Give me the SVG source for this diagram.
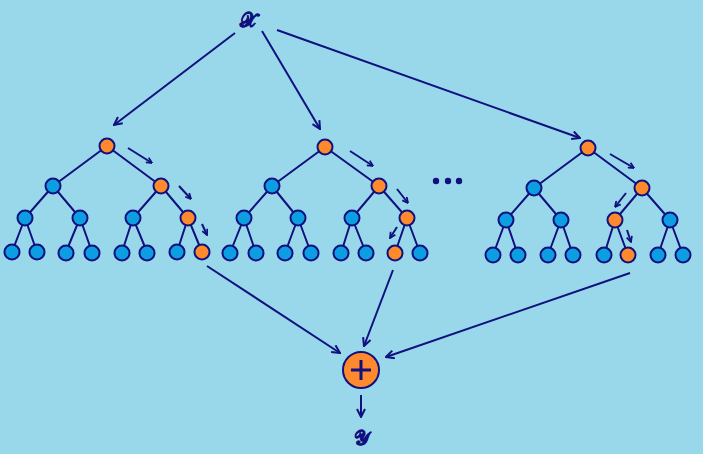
<svg xmlns="http://www.w3.org/2000/svg" width="703" height="454" viewBox="0 0 703 454">
<defs>
<style>
.bg{fill:#99D8EA}
.e{stroke:#10107E;stroke-width:2;fill:none}
.n{fill:#0D9EE2;stroke:#10107E;stroke-width:2}
.o{fill:#FF8A2E;stroke:#10107E;stroke-width:2}
.a{stroke:#10107E;stroke-width:2;fill:none;marker-end:url(#v)}
.s{stroke:#10107E;stroke-width:2;fill:none;marker-end:url(#vs)}
.t{font-family:"DejaVu Serif","DejaVu Sans","Noto Sans",serif;font-size:20px;font-weight:bold;fill:#10107E;stroke:#10107E;stroke-width:0.6;text-anchor:middle}
</style>
<marker id="v" viewBox="0 0 10 10" refX="9" refY="5" markerWidth="10" markerHeight="10" markerUnits="userSpaceOnUse" orient="auto">
<path d="M1,1 L9,5 L1,9" fill="none" stroke="#10107E" stroke-width="2"/>
</marker>
<marker id="vs" viewBox="0 0 10 10" refX="9" refY="5" markerWidth="7" markerHeight="7" markerUnits="userSpaceOnUse" orient="auto">
<path d="M1,1 L9,5 L1,9" fill="none" stroke="#10107E" stroke-width="2.5"/>
</marker>
</defs>
<rect class="bg" x="0" y="0" width="703" height="454"/>

<g id="tree1">
<g class="e">
<path d="M107,146 L53,186 M107,146 L161,186 M53,186 L25,218 M53,186 L80,218 M161,186 L133,218 M161,186 L188,218 M25,218 L12,252 M25,218 L37,252 M80,218 L66,252 M80,218 L92,252 M133,218 L122,252 M133,218 L147,252 M188,218 L177,252 M188,218 L202,252"/>
</g>
<circle class="o" cx="107" cy="146" r="7.5"/>
<circle class="n" cx="53" cy="186" r="7.5"/>
<circle class="o" cx="161" cy="186" r="7.5"/>
<circle class="n" cx="25" cy="218" r="7.5"/>
<circle class="n" cx="80" cy="218" r="7.5"/>
<circle class="n" cx="133" cy="218" r="7.5"/>
<circle class="o" cx="188" cy="218" r="7.5"/>
<circle class="n" cx="12" cy="252" r="7.5"/>
<circle class="n" cx="37" cy="252" r="7.5"/>
<circle class="n" cx="66" cy="253" r="7.5"/>
<circle class="n" cx="92" cy="253" r="7.5"/>
<circle class="n" cx="122" cy="253" r="7.5"/>
<circle class="n" cx="147" cy="253" r="7.5"/>
<circle class="n" cx="177" cy="252" r="7.5"/>
<circle class="o" cx="202" cy="252" r="7.5"/>
</g>

<g id="tree2">
<g class="e">
<path d="M325,147 L272,186 M325,147 L379,186 M272,186 L244,218 M272,186 L298,218 M379,186 L352,218 M379,186 L407,218 M244,218 L230,253 M244,218 L256,253 M298,218 L285,253 M298,218 L311,253 M352,218 L341,253 M352,218 L366,253 M407,218 L395,253 M407,218 L420,253"/>
</g>
<circle class="o" cx="325" cy="147" r="7.5"/>
<circle class="n" cx="272" cy="186" r="7.5"/>
<circle class="o" cx="379" cy="186" r="7.5"/>
<circle class="n" cx="244" cy="218" r="7.5"/>
<circle class="n" cx="298" cy="218" r="7.5"/>
<circle class="n" cx="352" cy="218" r="7.5"/>
<circle class="o" cx="407" cy="218" r="7.5"/>
<circle class="n" cx="230" cy="253" r="7.5"/>
<circle class="n" cx="256" cy="253" r="7.5"/>
<circle class="n" cx="285" cy="253" r="7.5"/>
<circle class="n" cx="311" cy="253" r="7.5"/>
<circle class="n" cx="341" cy="253" r="7.5"/>
<circle class="n" cx="366" cy="253" r="7.5"/>
<circle class="o" cx="395" cy="253" r="7.5"/>
<circle class="n" cx="420" cy="253" r="7.5"/>
</g>

<g id="tree3">
<g class="e">
<path d="M588,148 L534,188 M588,148 L642,188 M534,188 L506,220 M534,188 L561,220 M642,188 L615,220 M642,188 L670,220 M506,220 L493,255 M506,220 L518,255 M561,220 L548,255 M561,220 L573,255 M615,220 L604,255 M615,220 L628,255 M670,220 L658,255 M670,220 L683,255"/>
</g>
<circle class="o" cx="588" cy="148" r="7.5"/>
<circle class="n" cx="534" cy="188" r="7.5"/>
<circle class="o" cx="642" cy="188" r="7.5"/>
<circle class="n" cx="506" cy="220" r="7.5"/>
<circle class="n" cx="561" cy="220" r="7.5"/>
<circle class="o" cx="615" cy="220" r="7.5"/>
<circle class="n" cx="670" cy="220" r="7.5"/>
<circle class="n" cx="493" cy="255" r="7.5"/>
<circle class="n" cx="518" cy="255" r="7.5"/>
<circle class="n" cx="548" cy="255" r="7.5"/>
<circle class="n" cx="573" cy="255" r="7.5"/>
<circle class="n" cx="604" cy="255" r="7.5"/>
<circle class="o" cx="628" cy="255" r="7.5"/>
<circle class="n" cx="658" cy="255" r="7.5"/>
<circle class="n" cx="683" cy="255" r="7.5"/>
</g>

<g id="ellipsis" fill="#10107E">
<circle cx="436" cy="181" r="3.2"/>
<circle cx="448" cy="181" r="3.2"/>
<circle cx="459" cy="181" r="3.2"/>
</g>

<g id="input">
<text class="t" x="248" y="27">𝒳</text>
</g>

<g id="sum">
<circle class="o" cx="361" cy="370" r="18"/>
<path d="M351,370 H371 M361,360 V380" stroke="#10107E" stroke-width="3" fill="none"/>
</g>

<g id="output">
<text class="t" x="362" y="445">𝒴</text>
</g>

<g id="connectors">
<path class="a" d="M235,33 L114,125"/>
<path class="a" d="M262,31 L320,129"/>
<path class="a" d="M277,30 L580,138"/>
<path class="a" d="M207,266 L340,353"/>
<path class="a" d="M393,270 L364,346"/>
<path class="a" d="M630,273 L386,357"/>
<path class="a" d="M361,395 L361,417"/>
<path class="s" d="M128,148 L152,163"/>
<path class="s" d="M179,186 L191,199"/>
<path class="s" d="M202,224 L207,235"/>
<path class="s" d="M350,151 L373,166"/>
<path class="s" d="M397,189 L408,203"/>
<path class="s" d="M397,227 L390,238"/>
<path class="s" d="M610,154 L634,168"/>
<path class="s" d="M626,193 L615,207"/>
<path class="s" d="M627,230 L631,242"/>
</g>
</svg>
